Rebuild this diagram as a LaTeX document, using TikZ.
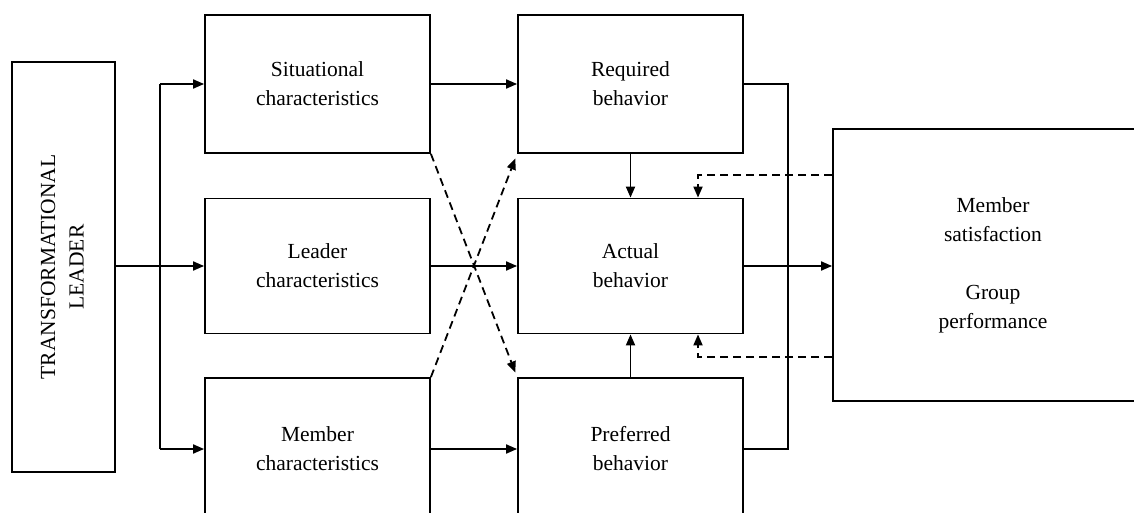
\documentclass[tikz,border=0pt]{standalone}
\usepackage{fontspec}
\setmainfont{Liberation Serif}
\usetikzlibrary{arrows.meta,calc}
\begin{document}
\begin{tikzpicture}[x=1pt,y=-1pt,
  box/.style={draw,line width=1.8pt,inner sep=0pt,align=center,font=\fontsize{21.5}{29}\selectfont},
  conn/.style={line width=1.8pt},
  arr/.style={conn,-{Triangle[length=11pt,width=9pt]}},
  darr/.style={arr,dash pattern=on 8pt off 5pt},
  dline/.style={conn,dash pattern=on 8pt off 5pt}]
\useasboundingbox (0,0) rectangle (1134,513);
\clip (0,0) rectangle (1134,513);
% boxes
\node[box,minimum width=103pt,minimum height=410pt] (tl) at (63.5,267) {\rotatebox{90}{\begin{tabular}{@{}c@{}}TRANSFORMATIONAL\\[-0.5pt]LEADER\end{tabular}}};
\node[box,minimum width=225pt,minimum height=138pt] (sit) at (317.5,84) {Situational\\characteristics};
\node[box,minimum width=225pt,minimum height=135pt] (lead) at (317.5,266) {Leader\\characteristics};
\node[box,minimum width=225pt,minimum height=142pt] (mem) at (317.5,449) {Member\\characteristics};
\node[box,minimum width=225pt,minimum height=138pt] (req) at (630.5,84) {Required\\behavior};
\node[box,minimum width=225pt,minimum height=135pt] (act) at (630.5,266) {Actual\\behavior};
\node[box,minimum width=225pt,minimum height=142pt] (pref) at (630.5,449) {Preferred\\behavior};
\node[box,minimum width=320pt,minimum height=272pt] (out) at (993,265) {Member\\satisfaction\\[29pt]Group\\performance};
% coordinates
\coordinate (bt) at (160,84);
\coordinate (bb) at (160,449);
\coordinate (rb) at (788,266);
\coordinate (fbt) at (698,175);
\coordinate (fbb) at (698,357);
% left bus
\draw[arr] (tl.east |- lead.west) -- (lead.west);
\draw[conn] (bb) -- (bt);
\draw[arr] (bt) -- (sit.west);
\draw[arr] (bb) -- (mem.west);
% middle
\draw[arr] (sit.east) -- (req.west);
\draw[arr] (lead.east) -- (act.west);
\draw[arr] (mem.east) -- (pref.west);
\draw[darr,shorten >=5pt] (sit.south east) -- (pref.north west);
\draw[darr,shorten >=5pt] (mem.north east) -- (req.south west);
% right column
\draw[arr] (req.south) -- (act.north);
\draw[arr] (pref.north) -- (act.south);
\draw[conn] (req.east) -| (rb) |- (pref.east);
\draw[arr] (act.east) -- (out.west |- act.east);
\draw[darr] (out.west |- fbt) -| (act.north -| fbt);
\draw[darr] (out.west |- fbb) -| (act.south -| fbb);
\end{tikzpicture}
\end{document}
